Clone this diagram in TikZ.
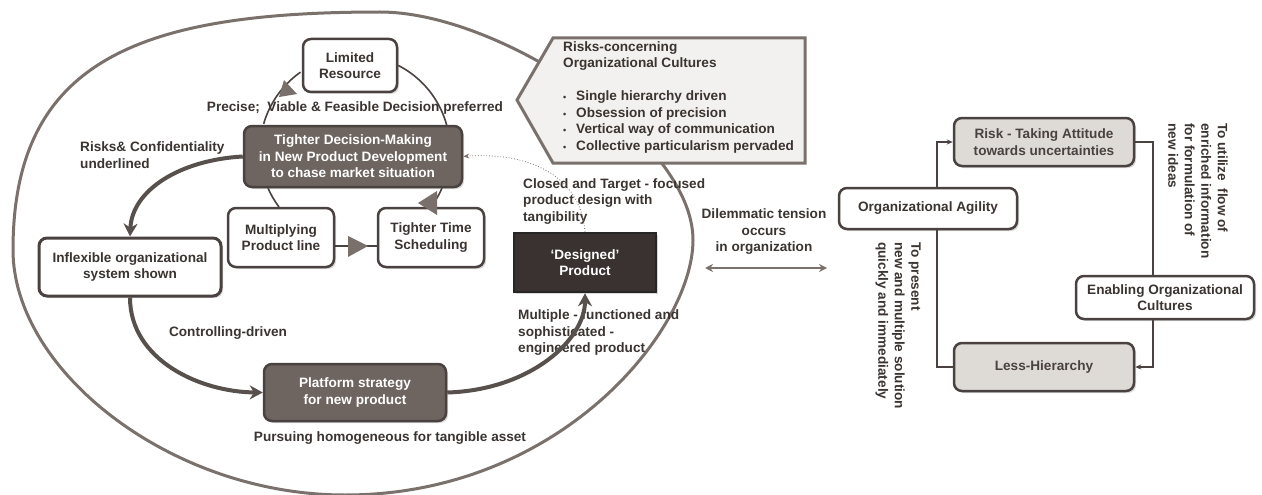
\documentclass[tikz,border=0pt]{standalone}
\usepackage{fontspec}
\setmainfont{Liberation Sans}
\usetikzlibrary{arrows.meta,shadows}
\definecolor{txt}{HTML}{3B3431}
\definecolor{bord}{HTML}{4A4240}
\definecolor{darkfill}{HTML}{6E6560}
\definecolor{desfill}{HTML}{3A3230}
\definecolor{lightfill}{HTML}{DEDAD6}
\definecolor{callfill}{HTML}{F3F1EF}
\definecolor{ellc}{HTML}{7B716C}
\definecolor{arrc}{HTML}{57504C}
\definecolor{tric}{HTML}{7A706B}
\begin{document}
\begin{tikzpicture}[x=1pt,y=-1pt,
  every node/.style={font=\fontsize{13.6}{16.5}\selectfont\bfseries, text=txt, inner sep=0pt},
  shad/.style={drop shadow={shadow xshift=2pt,shadow yshift=-2pt,opacity=0.3}},
  box/.style={draw=bord, line width=2.5pt, rounded corners=8pt, fill=white, align=center, shad},
  dbox/.style={draw=bord, line width=2.5pt, rounded corners=8pt, fill=darkfill, text=white, align=center, shad},
  desbox/.style={draw=black!85, line width=2.5pt, fill=desfill, text=white, align=center, shad},
  lbox/.style={draw=bord, line width=2.5pt, rounded corners=8pt, fill=lightfill, text=bord, align=center, shad},
  cyc/.style={draw=bord, line width=1.6pt},
  tri/.style={fill=tric},
  thickarr/.style={draw=arrc, line width=4pt, -{Stealth[length=13pt,width=14pt]}},
  dotarr/.style={draw=ellc, line width=0.8pt, dotted, -{Stealth[length=6pt,width=5pt]}},
  dblarr/.style={draw=ellc, line width=2pt, {Stealth[length=8pt,width=8pt]}-{Stealth[length=8pt,width=8pt]}},
  rline/.style={draw=bord, line width=1.4pt},
  rarr/.style={rline, -{Stealth[length=6pt,width=5pt]}},
  lbl/.style={align=left},
]
\useasboundingbox[fill=white] (0,0) rectangle (1262,495);

% big ellipse
\draw[ellc, line width=3pt] (13,250) .. controls (13,60) and (140,12) .. (380,12)
  .. controls (500,12) and (693,140) .. (693,240)
  .. controls (693,330) and (560,495) .. (345,495)
  .. controls (170,495) and (13,370) .. (13,250) -- cycle;

% callout
\draw[draw=ellc, line width=3pt, fill=callfill] (517,100) -- (553,38) -- (805,38) -- (805,163) -- (553,163) -- cycle;
\node[lbl, anchor=north west] (risks) at (563,41) {Risks-concerning\\Organizational Cultures\\[16.5pt]
\makebox[13pt][l]{\small\textbullet}Single hierarchy driven\\
\makebox[13pt][l]{\small\textbullet}Obsession of precision\\
\makebox[13pt][l]{\small\textbullet}Vertical way of communication\\
\makebox[13pt][l]{\small\textbullet}Collective particularism pervaded};

% cycle arcs
\coordinate (cc) at (355,150);
\draw[cyc] (cc) ++(196:95) arc[start angle=196, end angle=235, radius=95];
\draw[cyc] (cc) ++(297:95) arc[start angle=297, end angle=345, radius=95];
\draw[cyc] (cc) ++(156.4:95) arc[start angle=156.4, end angle=143.1, radius=95];
\draw[cyc] (cc) ++(36.9:95) arc[start angle=36.9, end angle=23.6, radius=95];

\node[box, minimum width=94pt, minimum height=53pt] (lim) at (350,65.5) {Limited\\Resource};
\node[dbox, minimum width=218pt, minimum height=61pt] (dec) at (353,156.5) {Tighter Decision-Making\\in New Product Development\\to chase market situation};
\node[box, minimum width=106pt, minimum height=59pt] (mult) at (281,237.5) {Multiplying\\Product line};
\node[box, minimum width=106pt, minimum height=59pt] (time) at (431,237.5) {Tighter Time\\Scheduling};
\node[box, line width=3pt, minimum width=182pt, minimum height=58pt] (infl) at (130,267) {Inflexible organizational\\system shown};
\node[dbox, minimum width=182pt, minimum height=57pt] (plat) at (355,392.5) {Platform strategy\\for new product};
\node[desbox, minimum width=142pt, minimum height=59pt] (des) at (585,262.5) {‘Designed’\\Product};

\draw[cyc] ([yshift=-8.5pt]mult.east) -- ([yshift=-8.5pt]time.west);

% triangles
\fill[tri] (284,80) -- (279,97) -- (297,94) -- cycle;
\fill[tri] (418,203) -- (437,191) -- (437,215) -- cycle;
\fill[tri] (368,246) -- (348,236) -- (348,257) -- cycle;

% labels
\node (prec) at (355,108) {Precise;\ \ Viable \& Feasible Decision preferred};
\node[lbl, anchor=west] (riskc) at (80,155) {Risks\& Confidentiality\\underlined};
\node (ctrl) at (228,333) {Controlling-driven};
\node (purs) at (390,438) {Pursuing homogeneous for tangible asset};
\node[lbl, anchor=west] (closed) at (523,201.5) {Closed and Target - focused\\product design with\\tangibility};
\node[lbl, anchor=west] (multi) at (518,333) {Multiple - functioned and\\sophisticated -\\engineered product};

% thick arrows
\draw[thickarr] (dec.west) .. controls (180,160) and (132,190) .. (infl.north);
\draw[thickarr] (infl.south) .. controls (130,360) and (200,392) .. (plat.west);
\draw[thickarr] (plat.east) .. controls (530,390) and (585,340) .. (des.south);
\draw[dotarr] (des.north) .. controls (580,170) and (520,152) .. (dec.east);

% tension
\node (dil) at (764,232) [align=center] {Dilemmatic tension\\occurs\\in organization};
\coordinate (tl) at (705,268);
\coordinate (tr) at (827,268);
\draw[dblarr] (tl) -- (tr);

% right diagram
\node[box, minimum width=178pt, minimum height=41pt] (agil) at (928,208.5) {Organizational Agility};
\node[lbox, minimum width=180pt, minimum height=48pt] (risk) at (1044,142) {Risk - Taking Attitude\\towards uncertainties};
\node[box, minimum width=178pt, minimum height=43pt] (enab) at (1165,297.5) {Enabling Organizational\\Cultures};
\node[lbox, minimum width=180pt, minimum height=48pt] (less) at (1044,367) {Less-Hierarchy};

\draw[rarr] ([xshift=9pt]agil.north) |- (risk.west);
\draw[rline] (risk.east) -| ([xshift=-12pt]enab.north);
\draw[rarr] ([xshift=-12pt]enab.south) |- (less.east);
\draw[rline] ([xshift=9pt]agil.south) |- (less.west);

\node[lbl, rotate=-90, anchor=north west] (pres) at (921,242) {To present\\new and multiple solution\\quickly and immediately};
\node[lbl, rotate=-90, anchor=north west] (util) at (1228,123) {To utilize\ \ flow of\\enriched information\\for formulation of\\new ideas};
\end{tikzpicture}
\end{document}
